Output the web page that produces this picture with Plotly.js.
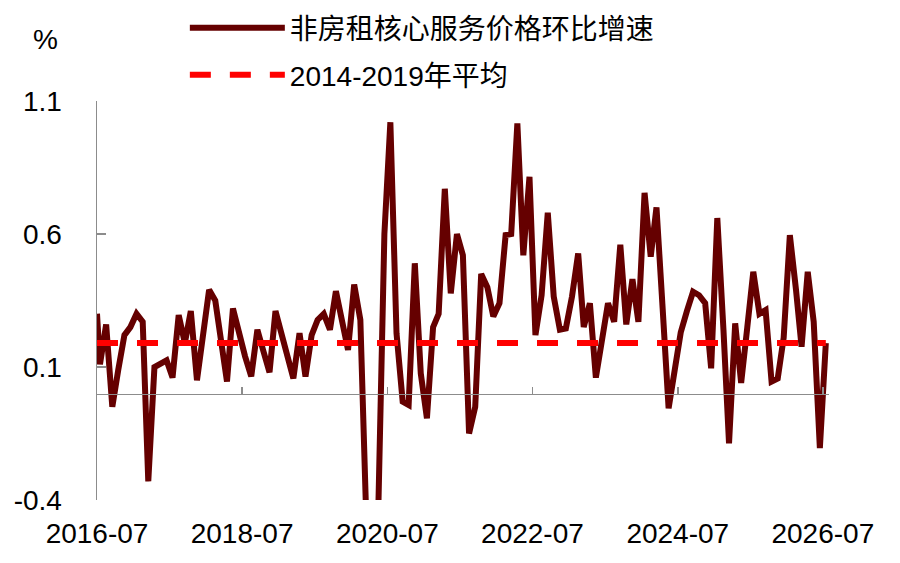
<!DOCTYPE html>
<html>
<head>
<meta charset="utf-8">
<script src="https://cdn.plot.ly/plotly-3.0.1.min.js"></script>
<style>
  html, body { margin: 0; padding: 0; background: #fff; }
  #chart { width: 900px; height: 563px; }
</style>
</head>
<body>
<div id="chart"></div>
<script>
// séries (valeurs mensuelles, %)
var debutMois = [2016, 7]; // 2016-07
var premierPoint = ['2016-07-01', 0.30]; // bord gauche de la courbe
var valeurs = [
  0.11, 0.26, -0.05, 0.09, 0.22, 0.25, 0.30, 0.27, -0.33,
  0.10, 0.11, 0.125, 0.06, 0.295, 0.19, 0.31, 0.05, 0.22, 0.39,
  0.35, 0.20, 0.045, 0.32, 0.22, 0.14, 0.065, 0.24, 0.16, 0.08,
  0.31, 0.22, 0.14, 0.057, 0.227, 0.064, 0.22, 0.277, 0.30, 0.24,
  0.385, 0.26, 0.164, 0.41, 0.277, -0.45, -0.80, -0.45, 0.60, 1.02,
  0.227, -0.03, -0.043, 0.49, 0.076, -0.093, 0.25, 0.30, 0.77, 0.377,
  0.60, 0.52, -0.15, -0.05, 0.45, 0.40, 0.29, 0.34, 0.596, 0.60,
  1.016, 0.52, 0.815, 0.22, 0.37, 0.68, 0.365, 0.24, 0.245, 0.365,
  0.527, 0.25, 0.34, 0.06, 0.20, 0.34, 0.27, 0.56, 0.26, 0.43,
  0.27, 0.755, 0.515, 0.70, 0.32, -0.055, 0.09, 0.23, 0.31, 0.383,
  0.37, 0.34, 0.095, 0.66, 0.24, -0.187, 0.264, 0.04, 0.25, 0.458,
  0.30, 0.314, 0.045, 0.057, 0.21, 0.596, 0.39, 0.176, 0.458, 0.27,
  -0.205, 0.19
];
var moyenneDates = ['2016-07-01', '2026-07-16'];
var moyenneValeurs = [0.19, 0.19];
var yTickVals = [-0.4, 0.1, 0.6, 1.1];
var yTickText = ['-0.4', '0.1', '0.6', '1.1'];
var nomSerie = '非房租核心服务价格环比增速';
var nomMoyenne = '2014-2019年平均';

// dates au milieu de chaque mois
function moisEnDates(debut, n)
{
	var res = [];
	for (var i = 0; i < n; i++) {
		var m = debut[1] - 1 + i;
		var a = debut[0] + Math.floor(m / 12);
		var mm = (m % 12) + 1;
		res.push(a + '-' + (mm < 10 ? '0' + mm : mm) + '-16');
	}
	return res;
}

var dates = [premierPoint[0]].concat(moisEnDates(debutMois, valeurs.length));
var y = [premierPoint[1]].concat(valeurs);
var police = 'Liberation Sans, Arial, Noto Sans CJK SC, sans-serif';

var trace1 = {
	x: dates,
	y: y,
	type: 'scatter',
	mode: 'lines',
	name: nomSerie,
	line: { color: '#650000', width: 6, shape: 'linear' },
	legend: 'legend'
};
var trace2 = {
	x: moyenneDates,
	y: moyenneValeurs,
	xaxis: 'x2',
	type: 'scatter',
	mode: 'lines',
	name: nomMoyenne,
	line: { color: '#ff0000', width: 6, dash: '21px,19px' },
	legend: 'legend2'
};

var layout = {
	width: 900,
	height: 563,
	margin: { l: 97, r: 71, t: 101, b: 63, autoexpand: false },
	paper_bgcolor: '#ffffff',
	plot_bgcolor: '#ffffff',
	font: { family: police, size: 28, color: '#000000' },
	showlegend: true,
	legend: {
		x: 0.120, xanchor: 'left', y: 1.183, yanchor: 'middle',
		itemwidth: 95, font: { size: 28 }, bgcolor: 'rgba(0,0,0,0)'
	},
	legend2: {
		x: 0.120, xanchor: 'left', y: 1.065, yanchor: 'middle',
		itemwidth: 95, font: { size: 28 }, bgcolor: 'rgba(0,0,0,0)'
	},
	xaxis: {
		type: 'date',
		range: ['2016-07-01', '2026-08-01'],
		tick0: '2016-07-01',
		dtick: 'M24',
		tickformat: '%Y-%m',
		showline: false,
		showgrid: false,
		zeroline: false,
		ticks: '',
		ticklabelstandoff: 14,
		tickfont: { size: 28 }
	},
	xaxis2: {
		type: 'date',
		overlaying: 'x',
		matches: 'x',
		anchor: 'free',
		position: 0.4 / 1.5,
		tick0: '2016-07-01',
		dtick: 'M24',
		showline: true,
		linecolor: '#8c8c8c',
		linewidth: 1.5,
		ticks: 'inside',
		ticklen: 7,
		tickwidth: 1.5,
		tickcolor: '#8c8c8c',
		showticklabels: false,
		showgrid: false,
		zeroline: false
	},
	yaxis: {
		range: [-0.4, 1.1],
		tickmode: 'array',
		tickvals: yTickVals,
		ticktext: yTickText,
		showline: true,
		linecolor: '#8c8c8c',
		linewidth: 1.5,
		ticks: 'inside',
		ticklen: 9,
		tickwidth: 1.5,
		tickcolor: '#8c8c8c',
		ticklabelstandoff: 28,
		showgrid: false,
		zeroline: false,
		tickfont: { size: 28 }
	},
	annotations: [{
		text: '%',
		xref: 'paper', yref: 'paper',
		x: -0.07, y: 1.153,
		xanchor: 'center', yanchor: 'middle',
		showarrow: false,
		font: { size: 28 }
	}]
};

Plotly.newPlot('chart', [trace1, trace2], layout, { staticPlot: true });
</script>
</body>
</html>
